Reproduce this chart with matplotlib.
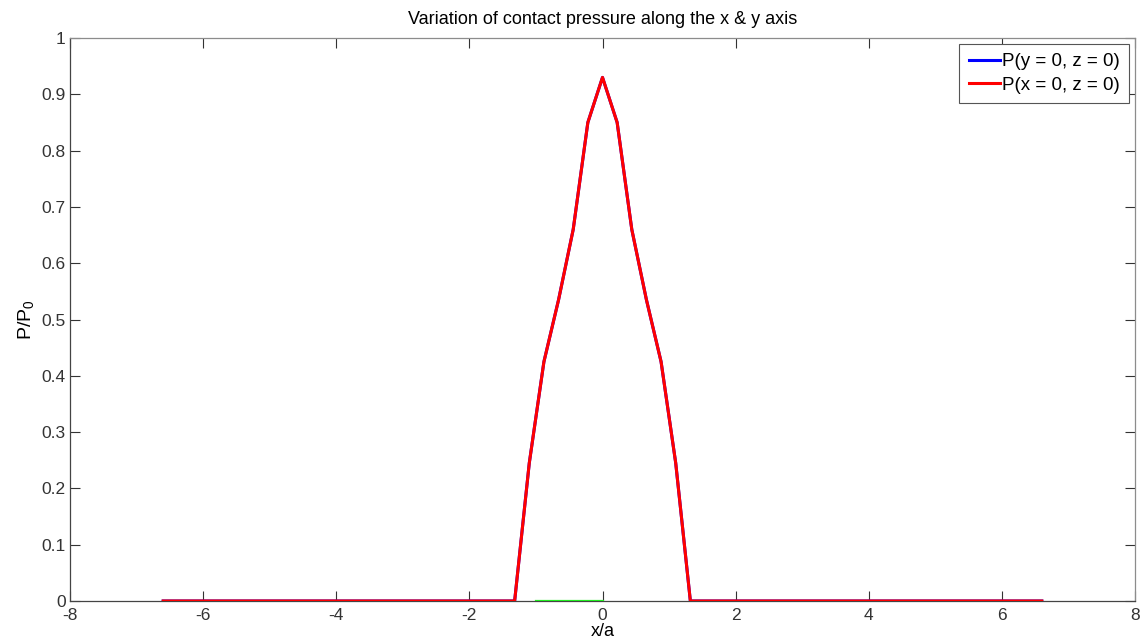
import numpy as np
import matplotlib.pyplot as plt

plt.rcParams['font.family'] = ['Liberation Sans', 'DejaVu Sans']
plt.rcParams['mathtext.default'] = 'regular'
plt.rcParams['axes.unicode_minus'] = False

# pressure profile through the contact centre (x/a, P/P0)
x_pos = [-6.6, -1.32, -1.1, -0.88, -0.66, -0.44, -0.22, 0.0,
         0.22, 0.44, 0.66, 0.88, 1.1, 1.32, 6.6]
p_y0 = [0.0, 0.0, 0.245, 0.425, 0.535, 0.66, 0.85, 0.93,
        0.85, 0.66, 0.535, 0.425, 0.245, 0.0, 0.0]
p_x0 = [0.0, 0.0, 0.245, 0.425, 0.535, 0.66, 0.85, 0.93,
        0.85, 0.66, 0.535, 0.425, 0.245, 0.0, 0.0]

# contact patch marker
patch_x = [-1.0, 0.0]
patch_y = [0.0, 0.0]

xticks = np.arange(-8, 9, 2)
yticks = [0, 0.1, 0.2, 0.3, 0.4, 0.5, 0.6, 0.7, 0.8, 0.9, 1]

fig = plt.figure(figsize=(11.4, 6.39), dpi=100)
ax = fig.add_axes([70/1140, 38/639, 1065/1140, 563/639])

ax.plot(patch_x, patch_y, color='#22ee22', lw=1.6, zorder=3)
ax.plot(x_pos, p_y0, color='#0000ff', lw=2.2, label='P(y = 0, z = 0)', zorder=4)
ax.plot(x_pos, p_x0, color='#ff0000', lw=2.2, label='P(x = 0, z = 0)', zorder=5)

ax.set_xlim(-8, 8)
ax.set_ylim(0, 1)
ax.set_xticks(xticks)
ax.set_yticks(yticks)
ax.set_yticklabels(['0', '0.1', '0.2', '0.3', '0.4', '0.5', '0.6', '0.7', '0.8', '0.9', '1'])

ax.tick_params(direction='in', length=7, width=0.8, colors='#333333',
               labelsize=12.5, top=True, right=True, pad=3)
ax.tick_params(axis='x', pad=5)
for side in ['left', 'bottom']:
    ax.spines[side].set_color('#444444')
for side in ['top', 'right']:
    ax.spines[side].set_color('#8c8c8c')
for sp in ax.spines.values():
    sp.set_linewidth(0.9)

ax.set_title('Variation of contact pressure along the x & y axis', fontsize=13, pad=10)
ax.set_xlabel('x/a', fontsize=13, labelpad=0)
ax.set_ylabel('P/P$_0$', fontsize=14, labelpad=4)

leg = ax.legend(loc='upper right', fontsize=13.5, handlelength=1.7, handletextpad=0.1,
                borderaxespad=0.3, borderpad=0.5, labelspacing=0.35,
                fancybox=False, framealpha=1, edgecolor='#555555')
leg.get_frame().set_linewidth(0.8)

fig.savefig('out.png', dpi=100)
